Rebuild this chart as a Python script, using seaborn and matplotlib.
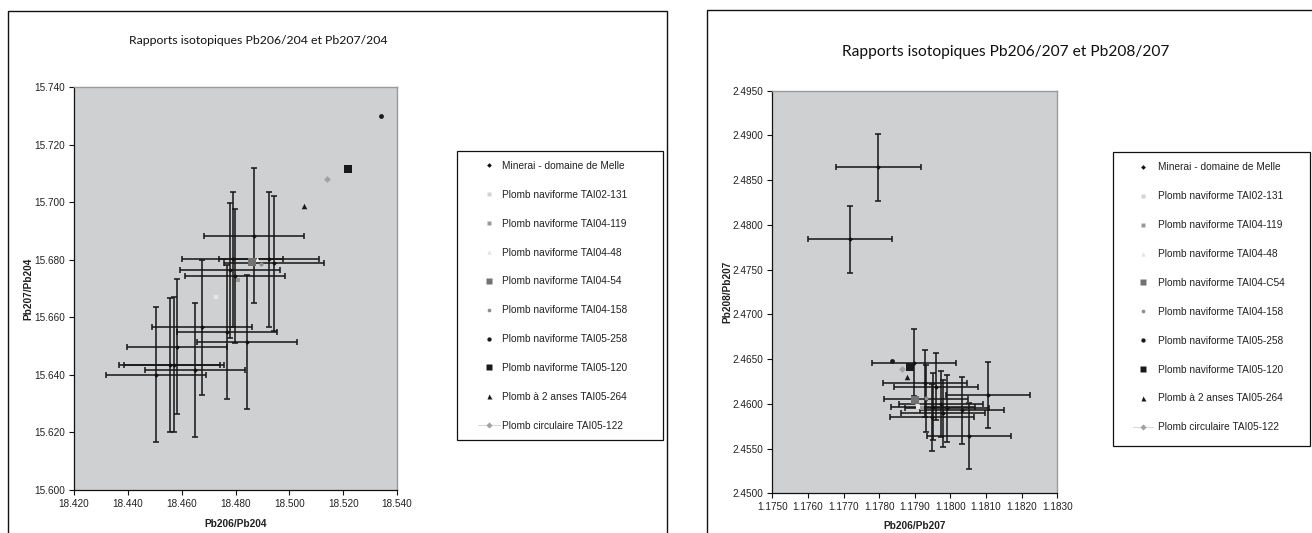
import numpy as np
import pandas as pd
import matplotlib
matplotlib.use("Agg")
import matplotlib.pyplot as plt
import seaborn as sns
from matplotlib.patches import Rectangle
from matplotlib.lines import Line2D
from matplotlib import font_manager

# ---------------- data ----------------
# Left chart: Pb206/Pb204 (x) vs Pb207/Pb204 (y)
melle_206_204 = [18.4869, 18.4926, 18.4942, 18.4789, 18.4779, 18.4799, 18.4677,
                 18.4768, 18.4843, 18.4582, 18.4555, 18.4572, 18.4649, 18.4506]
melle_207_204 = [15.6883, 15.6801, 15.6787, 15.6801, 15.6763, 15.6743, 15.6565,
                 15.6549, 15.6514, 15.6498, 15.6434, 15.6435, 15.6417, 15.6400]
melle_206_204_err = [0.0186, 0.0186, 0.0186, 0.0186, 0.0186, 0.0186, 0.0186,
                     0.0186, 0.0186, 0.0186, 0.0186, 0.0186, 0.0186, 0.0186]
melle_207_204_err = [0.0234, 0.0234, 0.0234, 0.0234, 0.0234, 0.0234, 0.0234,
                     0.0234, 0.0234, 0.0234, 0.0234, 0.0234, 0.0234, 0.0234]

# Right chart: Pb206/Pb207 (x) vs Pb208/Pb207 (y)
melle_206_207 = [1.17798, 1.17718, 1.17898, 1.17929, 1.17960, 1.18105, 1.17931,
                 1.17974, 1.17950, 1.17990, 1.18033, 1.17980, 1.17947, 1.18051]
melle_208_207 = [2.48645, 2.47840, 2.46460, 2.46230, 2.46192, 2.46099, 2.46058,
                 2.45998, 2.45968, 2.45950, 2.45928, 2.45894, 2.45850, 2.45641]
melle_206_207_err = [0.00118, 0.00118, 0.00118, 0.00118, 0.00118, 0.00118, 0.00118,
                     0.00118, 0.00118, 0.00118, 0.00118, 0.00118, 0.00118, 0.00118]
melle_208_207_err = [0.00373, 0.00373, 0.00373, 0.00373, 0.00373, 0.00373, 0.00373,
                     0.00373, 0.00373, 0.00373, 0.00373, 0.00373, 0.00373, 0.00373]

melle_label = "Minerai - domaine de Melle"
samples_left = ["Plomb naviforme TAI02-131", "Plomb naviforme TAI04-119",
                "Plomb naviforme TAI04-48", "Plomb naviforme TAI04-54",
                "Plomb naviforme TAI04-158", "Plomb naviforme TAI05-258",
                "Plomb naviforme TAI05-120", "Plomb à 2 anses TAI05-264",
                "Plomb circulaire TAI05-122"]
samples_right = ["Plomb naviforme TAI02-131", "Plomb naviforme TAI04-119",
                 "Plomb naviforme TAI04-48", "Plomb naviforme TAI04-C54",
                 "Plomb naviforme TAI04-158", "Plomb naviforme TAI05-258",
                 "Plomb naviforme TAI05-120", "Plomb à 2 anses TAI05-264",
                 "Plomb circulaire TAI05-122"]
sample_206_204 = [18.4726, 18.4811, 18.4880, 18.4862, 18.4893, 18.5342, 18.5218, 18.5054, 18.5141]
sample_207_204 = [15.6670, 15.6728, 15.6802, 15.6792, 15.6785, 15.7298, 15.7116, 15.6986, 15.7080]
sample_206_207 = [1.17908, 1.17919, 1.17906, 1.17901, 1.17931, 1.17835, 1.17887, 1.17878, 1.17864]
sample_208_207 = [2.45970, 2.45950, 2.46020, 2.46043, 2.46065, 2.46479, 2.46409, 2.46304, 2.46390]

left_xticks = [18.420, 18.440, 18.460, 18.480, 18.500, 18.520, 18.540]
left_yticks = [15.600, 15.620, 15.640, 15.660, 15.680, 15.700, 15.720, 15.740]
right_xticks = [1.1750, 1.1760, 1.1770, 1.1780, 1.1790, 1.1800, 1.1810, 1.1820, 1.1830]
right_yticks = [2.4500, 2.4550, 2.4600, 2.4650, 2.4700, 2.4750, 2.4800, 2.4850, 2.4900, 2.4950]

left_title = "Rapports isotopiques Pb206/204 et Pb207/204"
right_title = "Rapports isotopiques Pb206/207 et Pb208/207"

# ---------------- styles ----------------
sample_markers = ["s", "s", "^", "s", "o", "o", "s", "^", "D"]
sample_colors = ["#e9e9e9", "#9a9a9a", "#efefef", "#727272", "#8e8e8e",
                 "#1a1a1a", "#1a1a1a", "#1a1a1a", "#a2a2a2"]
sample_legend_colors = ["#d4d4d4", "#9a9a9a", "#e2e2e2", "#727272", "#8e8e8e",
                        "#1a1a1a", "#1a1a1a", "#1a1a1a", "#a2a2a2"]
sample_sizes = [9, 9, 12, 28, 9, 12, 30, 16, 12]

sns.set_style("white")
plt.rcParams["font.family"] = ["Liberation Sans", "DejaVu Sans"]
TXT = "#222222"
BG = "#cfd0d2"

installed = {f.name for f in font_manager.fontManager.ttflist}
narrow = [f for f in ["Liberation Sans Narrow", "DejaVu Sans Condensed"] if f in installed]
left_title_family = narrow + ["Lato", "DejaVu Sans"] if narrow else ["Lato", "DejaVu Sans"]
left_title_size = 10.8 if narrow else 8.8

W, H = 1312, 533
fig = plt.figure(figsize=(W / 100, H / 100), dpi=100)
fig.patch.set_facecolor("white")


def fx(px):
    return px / W


def fy(py):
    return 1 - py / H


# panel frames
fig.add_artist(Rectangle((fx(8), fy(560)), (667 - 8) / W, (560 - 11) / H,
                         transform=fig.transFigure, fill=False, lw=1.0, ec="#111111"))
fig.add_artist(Rectangle((fx(707), fy(560)), (1340 - 707) / W, (560 - 10) / H,
                         transform=fig.transFigure, fill=False, lw=1.0, ec="#111111"))

ax1 = fig.add_axes([fx(74), fy(490), (397 - 74) / W, (490 - 87) / H])
ax2 = fig.add_axes([fx(772.3), fy(493.3), (1057.3 - 772.3) / W, (493.3 - 90.7) / H])


def draw(ax, mx, my, mxe, mye, sx, sy, xticks, yticks, fmtx, fmty):
    ax.set_facecolor(BG)
    ax.errorbar(mx, my, xerr=mxe, yerr=mye, fmt="none", ecolor="#151515",
                elinewidth=1.1, capsize=2.5, capthick=1.1, zorder=2)
    sns.scatterplot(x=mx, y=my, ax=ax, marker="D", s=6, color="#111111",
                    linewidth=0, legend=False, zorder=3)
    for i in range(len(sx)):
        sns.scatterplot(x=[sx[i]], y=[sy[i]], ax=ax, marker=sample_markers[i],
                        s=sample_sizes[i], color=sample_colors[i], linewidth=0,
                        legend=False, zorder=4)
    ax.set_xlim(xticks[0], xticks[-1])
    ax.set_ylim(yticks[0], yticks[-1])
    ax.set_xticks(xticks)
    ax.set_yticks(yticks)
    ax.set_xticklabels([fmtx.format(v) for v in xticks])
    ax.set_yticklabels([fmty.format(v) for v in yticks])
    ax.tick_params(direction="out", length=3.5, width=0.8, color="#111111",
                   labelsize=7.2, labelcolor=TXT, pad=3,
                   bottom=True, left=True)
    for s in ("left", "bottom"):
        ax.spines[s].set_color("#111111")
        ax.spines[s].set_linewidth(0.9)
    for s in ("top", "right"):
        ax.spines[s].set_color("#9a9a9a")
        ax.spines[s].set_linewidth(1.0)
    ax.set_xlabel("")
    ax.set_ylabel("")


draw(ax1, melle_206_204, melle_207_204, melle_206_204_err, melle_207_204_err,
     sample_206_204, sample_207_204, left_xticks, left_yticks, "{:.3f}", "{:.3f}")
draw(ax2, melle_206_207, melle_208_207, melle_206_207_err, melle_208_207_err,
     sample_206_207, sample_208_207, right_xticks, right_yticks, "{:.4f}", "{:.4f}")

# axis labels
fig.text(fx(235.5), fy(524), "Pb206/Pb204", ha="center", va="center",
         fontsize=7.3, fontweight="bold", color=TXT)
fig.text(fx(28), fy(289), "Pb207/Pb204", ha="center", va="center", rotation=90,
         fontsize=7.3, fontweight="bold", color=TXT)
fig.text(fx(914.7), fy(526), "Pb206/Pb207", ha="center", va="center",
         fontsize=7.3, fontweight="bold", color=TXT)
fig.text(fx(727), fy(291.5), "Pb208/Pb207", ha="center", va="center", rotation=90,
         fontsize=7.3, fontweight="bold", color=TXT)

# titles
fig.text(fx(258), fy(40), left_title, ha="center", va="center",
         fontsize=left_title_size, color="#111111", family=left_title_family)
fig.text(fx(1006), fy(52), right_title, ha="center", va="center",
         fontsize=11.2, color="#111111", family=["Lato", "DejaVu Sans"])


# legends
def make_handles():
    hs = [Line2D([], [], ls="none", marker="D", ms=2.4, mfc="#111111", mec="none")]
    for i in range(len(sample_markers)):
        ms = np.sqrt(sample_sizes[i]) * 0.9
        if i == len(sample_markers) - 1:
            hs.append(Line2D([], [], ls="-", lw=0.8, color="#d8d8d8", marker=sample_markers[i],
                             ms=ms, mfc=sample_legend_colors[i], mec="none"))
        else:
            hs.append(Line2D([], [], ls="none", marker=sample_markers[i], ms=ms,
                             mfc=sample_legend_colors[i], mec="none"))
    return hs


fig.add_artist(Rectangle((fx(457), fy(440)), (663 - 457) / W, (440 - 151) / H,
                         transform=fig.transFigure, fill=True, fc="white", lw=0.9, ec="#111111"))
fig.add_artist(Rectangle((fx(1113), fy(446)), (1310 - 1113) / W, (446 - 152) / H,
                         transform=fig.transFigure, fill=True, fc="white", lw=0.9, ec="#111111"))

leg1 = fig.legend(make_handles(), [melle_label] + samples_left, loc="upper left",
                  bbox_to_anchor=(fx(478), fy(161)), bbox_transform=fig.transFigure,
                  frameon=False, fontsize=7.3, labelspacing=1.86, handlelength=2.2,
                  handletextpad=0.15, borderpad=0, borderaxespad=0, labelcolor=TXT)
leg2 = fig.legend(make_handles(), [melle_label] + samples_right, loc="upper left",
                  bbox_to_anchor=(fx(1133), fy(162.5)), bbox_transform=fig.transFigure,
                  frameon=False, fontsize=7.3, labelspacing=1.86, handlelength=2.0,
                  handletextpad=0.5, borderpad=0, borderaxespad=0, labelcolor=TXT)

fig.savefig("out.png", dpi=100, facecolor="white")
